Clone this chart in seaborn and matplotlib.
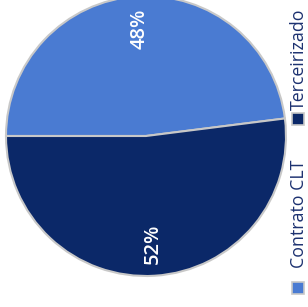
import matplotlib
matplotlib.use("Agg")
import matplotlib.pyplot as plt
from matplotlib.patches import Rectangle
import seaborn as sns

# data
categorias = ["Contrato CLT", "Terceirizado"]
valores = [48, 52]
cores = ["#4a7bd2", "#0b2868"]

sns.set_theme(style="white")
plt.rcParams['font.family'] = ['Open Sans', 'DejaVu Sans']

fig = plt.figure(figsize=(3.08, 3.07), dpi=100)
# pie centred around (146, 136) px, radius ~140 px
ax = fig.add_axes([6 / 308, 31 / 307, 280 / 308, 280 / 307])

wedges, textos, pcts = ax.pie(
    valores,
    colors=cores,
    startangle=7.2,
    autopct=lambda p: "%d%%" % round(p),
    pctdistance=0.77,
    wedgeprops=dict(edgecolor="#c8c8c8", linewidth=1.5),
    textprops=dict(color="white", fontsize=14.5, fontweight="semibold"),
)
for t in pcts:
    t.set_rotation(90)
    t.set_rotation_mode("anchor")
    t.set_ha("center")
    t.set_va("center")

for w in wedges:
    w.set_clip_on(False)
ax.set_xlim(-1, 1)
ax.set_ylim(-1, 1)
ax.set_aspect("equal")
ax.axis("off")

# vertical legend, rotated like the rest of the chart
leg_x = 299 / 308
posicoes = [(282, 268), (113, 110)]
for nome, cor, (y_mark, y_txt) in zip(categorias, cores, posicoes):
    fig.patches.append(Rectangle((292 / 308, 1 - (y_mark + 12) / 307), 12 / 308, 12 / 307,
                                 transform=fig.transFigure, facecolor=cor,
                                 edgecolor="#c8c8c8", linewidth=1.2))
    fig.text(leg_x, 1 - y_txt / 307, nome, rotation=90, ha="center", va="bottom",
             fontsize=12.8, color="#1c3170")

fig.savefig("out.png", dpi=100)
